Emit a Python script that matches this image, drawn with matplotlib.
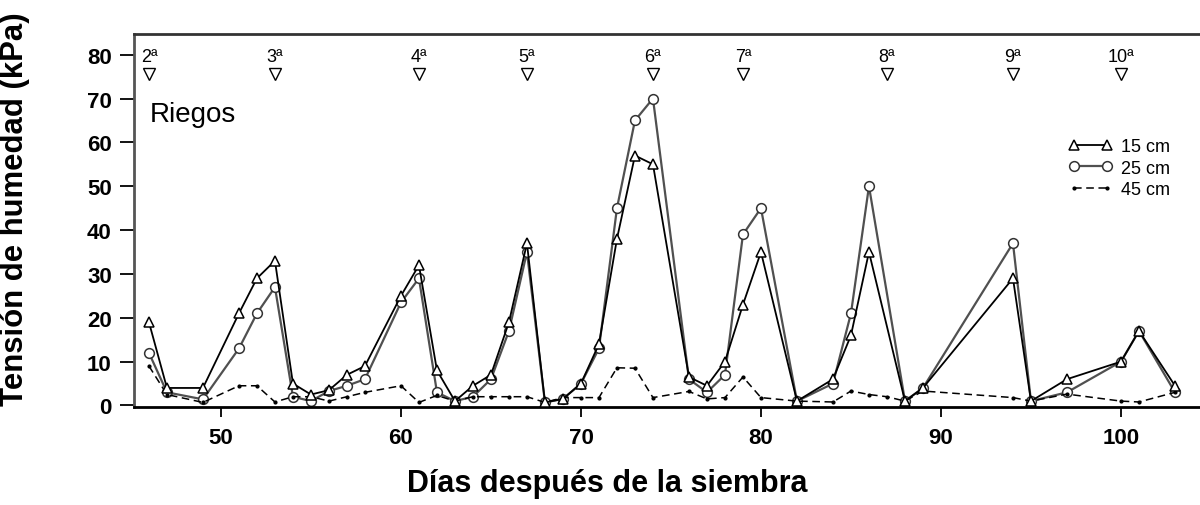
import matplotlib
matplotlib.use('Agg')
import matplotlib.pyplot as plt

# ---- data ----
days = [46, 47, 49, 51, 52, 53, 54, 55, 56, 57, 58, 60, 61, 62, 63, 64, 65, 66, 67, 68,
        69, 70, 71, 72, 73, 74, 76, 77, 78, 79, 80, 82, 84, 85, 86, 88, 89, 94, 95, 97,
        100, 101, 103]
t15 = [19, 4, 4, 21, 29, 33, 5, 2.5, 3.5, 7, 9, 25, 32, 8, 1, 4.5, 7, 19, 37, 0.7,
       1.5, 5, 14, 38, 57, 55, 6.5, 4.5, 10, 23, 35, 1, 6, 16, 35, 1, 4, 29, 1, 6,
       10, 17, 4.5]
t25 = [12, 3, 1.4, 13, 21, 27, 2, 1, 3.3, 4.5, 6, 23.5, 29, 3, 1, 2, 6, 17, 35, 0.7,
       1.5, 5, 13, 45, 65, 70, 6, 3, 7, 39, 45, 1, 5, 21, 50, 1, 4, 37, 1, 3,
       10, 17, 3]
days45 = [46, 47, 49, 51, 52, 53, 54, 55, 56, 57, 58, 60, 61, 62, 63, 64, 65, 66, 67, 68,
          69, 70, 71, 72, 73, 74, 76, 77, 78, 79, 80, 82, 84, 85, 86, 87, 88, 89, 94, 95,
          97, 100, 101, 103]
t45 = [9, 2.5, 0.7, 4.5, 4.5, 0.8, 2, 2, 1, 2, 3, 4.5, 0.7, 2.3, 1, 2, 2, 2, 2, 0.7,
       1.8, 1.8, 1.8, 8.6, 8.5, 1.8, 3.2, 1.5, 1.8, 6.5, 1.8, 1, 0.8, 3.3, 2.5, 2, 1, 3.3,
       1.8, 1, 2.6, 1, 0.8, 3]
irrig_days = [46, 53, 61, 67, 74, 79, 87, 94, 100]
irrig_labels = ['2ª', '3ª', '4ª', '5ª', '6ª', '7ª', '8ª', '9ª', '10ª']
xticks = [50, 60, 70, 80, 90, 100]
yticks = [0, 10, 20, 30, 40, 50, 60, 70, 80]

plt.rcParams['font.family'] = ['Liberation Sans', 'DejaVu Sans']

W, H = 1200, 506
fig = plt.figure(figsize=(W / 100, H / 100), dpi=100)
left, right, top, bottom = 134, 1200, 34.5, 407.5
ax = fig.add_axes([left / W, (H - bottom) / H, (right - left) / W, (bottom - top) / H])

ax.plot(days, t15, color='black', lw=1.3, marker='^', ms=7, mfc='white', mec='black',
        mew=1.1, label='15 cm', zorder=3)
ax.plot(days, t25, color='#505050', lw=1.6, marker='o', ms=7, mfc='white', mec='#333333',
        mew=1.1, label='25 cm', zorder=2)
ax.plot(days45, t45, color='black', lw=1.1, ls=(0, (5, 3)), marker='.', ms=4,
        label='45 cm', zorder=2)

# irrigation markers
for d, lab in zip(irrig_days, irrig_labels):
    ax.plot([d], [75.6], marker='v', ms=8, mfc='white', mec='black', mew=1.0,
            ls='none', zorder=4)
    ax.text(d, 79.6, lab, ha='center', va='center', fontsize=13)

ax.text(46.05, 66.5, 'Riegos', ha='left', va='center', fontsize=20)

ax.set_xlim(45.17, 104.39)
ax.set_ylim(-0.23, 84.83)
ax.set_xticks(xticks)
ax.set_yticks(yticks)
ax.tick_params(axis='y', direction='out', length=10, width=1.3, pad=6, labelsize=16)
ax.tick_params(axis='x', direction='out', length=7, width=1.3, pad=8, labelsize=16)
for lab in ax.get_xticklabels() + ax.get_yticklabels():
    lab.set_fontweight('bold')

ax.spines['right'].set_visible(False)
ax.spines['left'].set_color('#555555')
ax.spines['left'].set_linewidth(2)
ax.spines['bottom'].set_linewidth(2)
ax.spines['top'].set_color('#333333')
ax.spines['top'].set_linewidth(2)

ax.set_ylabel('Tensión de humedad (kPa)', fontsize=22.4, fontweight='bold')
ax.yaxis.set_label_coords((30 - left) / (right - left), (bottom - 209) / (bottom - top))
ax.set_xlabel('Días después de la siembra', fontsize=22, fontweight='bold')
ax.xaxis.set_label_coords((607 - left) / (right - left), -(469 - bottom) / (bottom - top))

leg = ax.legend(loc='upper left', bbox_to_anchor=((1060 - left) / (right - left),
                (bottom - 130) / (bottom - top)), frameon=False, fontsize=13,
                handlelength=2.4, handletextpad=0.5, labelspacing=0.25, borderpad=0,
                numpoints=2)

fig.savefig('out.png', dpi=100)
